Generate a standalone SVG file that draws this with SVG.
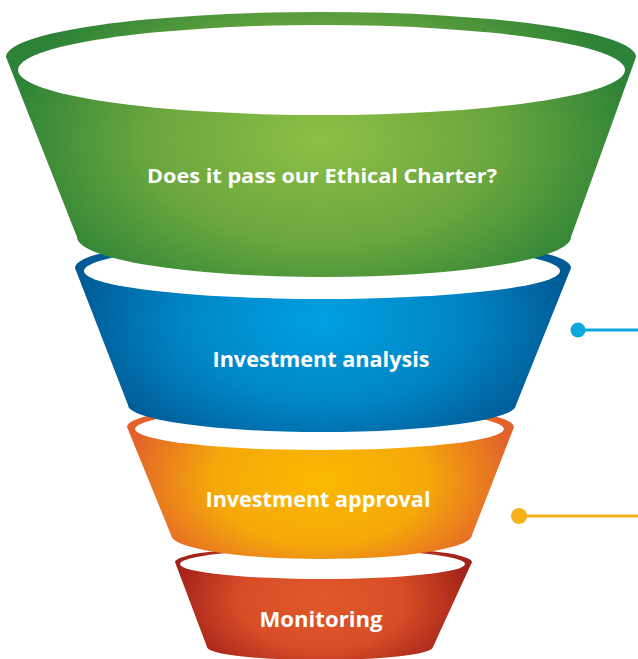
<svg xmlns="http://www.w3.org/2000/svg" width="638" height="659" viewBox="0 0 638 659">
  <defs>
    <radialGradient id="gGreen" gradientUnits="userSpaceOnUse" cx="322" cy="140" r="320" gradientTransform="translate(322 140) scale(1 0.6) translate(-322 -140)">
      <stop offset="0" stop-color="#8dbf45"/>
      <stop offset="0.55" stop-color="#69a63e"/>
      <stop offset="1" stop-color="#2c8236"/>
    </radialGradient>
    <radialGradient id="gBlue" gradientUnits="userSpaceOnUse" cx="322" cy="320" r="250" gradientTransform="translate(322 320) scale(1 0.6) translate(-322 -320)">
      <stop offset="0" stop-color="#00a0e2"/>
      <stop offset="0.55" stop-color="#0086c6"/>
      <stop offset="1" stop-color="#005a95"/>
    </radialGradient>
    <radialGradient id="gOrange" gradientUnits="userSpaceOnUse" cx="320" cy="480" r="196" gradientTransform="translate(320 480) scale(1 0.6) translate(-320 -480)">
      <stop offset="0" stop-color="#fbb900"/>
      <stop offset="0.55" stop-color="#f5a80a"/>
      <stop offset="1" stop-color="#e3622b"/>
    </radialGradient>
    <radialGradient id="gRed" gradientUnits="userSpaceOnUse" cx="322" cy="600" r="150" gradientTransform="translate(322 600) scale(1 0.6) translate(-322 -600)">
      <stop offset="0" stop-color="#e0582a"/>
      <stop offset="0.55" stop-color="#d84d27"/>
      <stop offset="1" stop-color="#a3221a"/>
    </radialGradient>
    <style>
      .opening { fill: #ffffff; }
      .label { fill: #ffffff; font-family: "Open Sans", "Liberation Sans", sans-serif; font-weight: bold; text-anchor: middle; }
    </style>
  </defs>

  <!-- stages drawn bottom-up so each upper stage overlaps the one below -->
  <g id="stage-monitoring">
    <path fill="url(#gRed)" d="M175,562 A148.5,16 0 0 1 472,562 L433,647 A113,13 0 0 1 207,647 Z"/>
    <ellipse class="opening" cx="322.5" cy="564" rx="142.5" ry="15"/>
    <text class="label" x="321" y="627" font-size="21" textLength="123" lengthAdjust="spacingAndGlyphs">Monitoring</text>
  </g>

  <g id="stage-approval">
    <path fill="url(#gOrange)" d="M127,427 A193.5,25 0 0 1 514,427 L472,535 A150.5,24 0 0 1 171,535 Z"/>
    <ellipse class="opening" cx="319.5" cy="429" rx="184.5" ry="21"/>
    <text class="label" x="318" y="507" font-size="21" textLength="225" lengthAdjust="spacingAndGlyphs">Investment approval</text>
  </g>

  <g id="stage-analysis">
    <path fill="url(#gBlue)" d="M75,268 A248,33 0 0 1 571,268 L516,405 A194,27 0 0 1 128,405 Z"/>
    <ellipse class="opening" cx="322" cy="271" rx="238" ry="28"/>
    <text class="label" x="321" y="367" font-size="21" textLength="217" lengthAdjust="spacingAndGlyphs">Investment analysis</text>
  </g>

  <g id="stage-charter">
    <path fill="url(#gGreen)" d="M6,57 A315,45 0 0 1 636,57 L571,237 A247,40 0 0 1 77,237 Z"/>
    <ellipse class="opening" cx="321.5" cy="70" rx="303.5" ry="45"/>
    <text class="label" x="322" y="183" font-size="20" textLength="350" lengthAdjust="spacingAndGlyphs">Does it pass our Ethical Charter?</text>
  </g>

  <!-- callout leaders -->
  <g id="connectors">
    <line x1="578" y1="330" x2="638" y2="330" stroke="#0ca9dd" stroke-width="3"/>
    <circle cx="578" cy="330" r="7.5" fill="#0ca9dd"/>
    <line x1="519" y1="516" x2="638" y2="516" stroke="#f6b319" stroke-width="3"/>
    <circle cx="519" cy="516" r="8" fill="#f6b319"/>
  </g>
</svg>
